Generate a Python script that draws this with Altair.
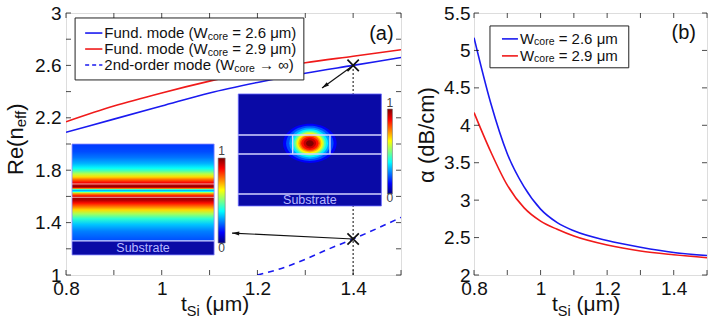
import math
import altair as alt
import pandas as pd

# ---------------- data ----------------
# Panel (a): Re(n_eff) versus silicon thickness t_Si (um)
t_a = [0.80, 0.90, 1.00, 1.10, 1.20, 1.30, 1.40, 1.50]
neff_w26 = [2.09, 2.19, 2.29, 2.39, 2.47, 2.54, 2.60, 2.66]
neff_w29 = [2.17, 2.29, 2.39, 2.48, 2.56, 2.62, 2.67, 2.72]
t_2nd = [1.20, 1.25, 1.30, 1.35, 1.40, 1.45, 1.50]
neff_2nd = [1.00, 1.05, 1.12, 1.20, 1.275, 1.355, 1.44]

# Panel (b): propagation loss alpha (dB/cm)
t_b = [0.80, 0.85, 0.90, 0.95, 1.00, 1.05, 1.10, 1.20, 1.30, 1.40, 1.50]
alpha_w26 = [5.17, 4.30, 3.62, 3.18, 2.88, 2.70, 2.59, 2.46, 2.37, 2.30, 2.26]
alpha_w29 = [4.17, 3.65, 3.20, 2.90, 2.72, 2.61, 2.52, 2.40, 2.32, 2.27, 2.23]

# tick positions and labels
xticks_a = [0.8, 0.9, 1.0, 1.1, 1.2, 1.3, 1.4, 1.5]
xlabels_a = [0.8, 1.0, 1.2, 1.4]
yticks_a = [1.0, 1.2, 1.4, 1.6, 1.8, 2.0, 2.2, 2.4, 2.6, 2.8, 3.0]
ylabels_a = [1.0, 1.4, 1.8, 2.2, 2.6, 3.0]
xticks_b = [0.8, 0.9, 1.0, 1.1, 1.2, 1.3, 1.4, 1.5]
xlabels_b = [0.8, 1.0, 1.2, 1.4]
yticks_b = [2.0, 2.5, 3.0, 3.5, 4.0, 4.5, 5.0, 5.5]
ylabels_b = [2.0, 2.5, 3.0, 3.5, 4.0, 4.5, 5.0, 5.5]

# slab-mode intensity profile (top -> bottom of the field window), normalised 0..1
slab_pos = [0.00, 0.08, 0.14, 0.20, 0.25, 0.28, 0.31, 0.34, 0.37, 0.40, 0.42, 0.44, 0.455,
            0.463, 0.471, 0.48, 0.49, 0.50, 0.515, 0.535, 0.555, 0.58, 0.61, 0.645, 0.68,
            0.72, 0.77, 0.83, 0.90, 1.00]
slab_val = [0.18, 0.20, 0.24, 0.30, 0.38, 0.46, 0.56, 0.66, 0.78, 0.88, 0.93, 0.98, 0.86,
            0.60, 0.38, 0.30, 0.38, 0.55, 0.74, 0.86, 0.96, 0.95, 0.86, 0.76, 0.66,
            0.54, 0.42, 0.32, 0.25, 0.20]

# rib-mode intensity contours: level, half-width (t axis units), half-height (n_eff axis units)
spot_level = [0.12, 0.20, 0.28, 0.36, 0.45, 0.55, 0.63, 0.70, 0.78, 0.86, 0.93, 1.00]
spot_hw = [0.0560, 0.0495, 0.0430, 0.0380, 0.0335, 0.0300, 0.0270, 0.0240, 0.0210, 0.0180, 0.0130, 0.0080]
spot_hh = [0.1500, 0.1340, 0.1200, 0.1080, 0.0960, 0.0870, 0.0780, 0.0690, 0.0610, 0.0510, 0.0390, 0.0240]

# ---------------- styling ----------------
FONT = "Liberation Sans"
WA, HA = 335, 262
WB, HB = 233, 262
BLUE = "#1a1af0"
RED = "#f01a1a"
DARK = "#0a0aa6"
LINE = "#d4d4ff"
LEG, SUB = 15, 10.5
TICKF = 19
TITLEF, TITLESUB = 21, 14.5

sxA = alt.Scale(domain=[0.8, 1.5], nice=False, zero=False)
syA = alt.Scale(domain=[1.0, 3.0], nice=False, zero=False)
sxB = alt.Scale(domain=[0.8, 1.5], nice=False, zero=False)
syB = alt.Scale(domain=[2.0, 5.5], nice=False, zero=False)


def axis(values, pad):
    return alt.Axis(values=values, format="~g", ticks=False, domain=False, grid=False,
                    labelFontSize=TICKF, labelFont=FONT, labelColor="#111", labelPadding=pad,
                    labelFlush=False, labelOverlap=False, labelBound=False, title=None)


AXES = {id(sxA): axis(xlabels_a, 4), id(syA): axis(ylabels_a, 5),
        id(sxB): axis(xlabels_b, 4), id(syB): axis(ylabels_b, 4)}

AW = {' ': 278, '(': 333, ')': 333, '.': 278, '-': 333, '=': 584, '/': 278, 'μ': 576,
      '→': 1000, '∞': 713, 'α': 578, 'F': 611, 'W': 944, 'R': 722, 'S': 667, 'B': 667,
      'f': 278, 'i': 222, 't': 278, 'r': 333, 'c': 500, 'm': 833, 's': 500}


def text_width(s, size):
    return sum(AW.get(ch, 556) for ch in s) * size / 1000.0


def jet(v):
    v = max(0.0, min(1.0, v))
    r = max(0.0, min(1.0, 1.5 - abs(4 * v - 3)))
    g = max(0.0, min(1.0, 1.5 - abs(4 * v - 2)))
    b = max(0.0, min(1.0, 1.5 - abs(4 * v - 1)))
    return "#%02x%02x%02x" % (int(r * 255), int(g * 255), int(b * 255))


def XQ(s, f="x"):
    return alt.X(f + ":Q", scale=s, axis=AXES[id(s)])


def YQ(s, f="y"):
    return alt.Y(f + ":Q", scale=s, axis=AXES[id(s)])


def curve(ts, vs, color, sx, sy, dash=None):
    df = pd.DataFrame({"x": ts, "y": vs})
    kw = dict(color=color, strokeWidth=1.6, interpolate="monotone", clip=True)
    if dash:
        kw["strokeDash"] = dash
    return alt.Chart(df).mark_line(**kw).encode(x=XQ(sx), y=YQ(sy))


def box(x0, x1, y0, y1, sx, sy, **mk):
    df = pd.DataFrame({"x": [x0], "x2": [x1], "y": [y0], "y2": [y1]})
    return alt.Chart(df).mark_rect(**mk).encode(
        x=XQ(sx), x2=alt.X2("x2"), y=YQ(sy), y2=alt.Y2("y2"))


def seg(x0, y0, x1, y1, sx, sy, **mk):
    df = pd.DataFrame({"x": [x0], "x2": [x1], "y": [y0], "y2": [y1]})
    return alt.Chart(df).mark_rule(**mk).encode(
        x=XQ(sx), x2=alt.X2("x2"), y=YQ(sy), y2=alt.Y2("y2"))


def rich(pieces, sx=None, sy=None, xv=None, yv=None, px=None, py=None,
         angle=0, baseline="middle", align="left", color="#111"):
    """Text built from pieces (text, size, baseline shift) laid end to end.
    Leading blanks of a piece become an offset, since SVG drops them."""
    layers = []
    off = 0.0
    for txt, size, shift in pieces:
        lead = len(txt) - len(txt.lstrip(" "))
        off += lead * 278 * size / 1000.0
        body = txt.lstrip(" ")
        if px is None:
            ch = alt.Chart(pd.DataFrame({"x": [xv], "y": [yv]}))
            enc = dict(x=XQ(sx), y=YQ(sy))
        else:
            ch = alt.Chart(alt.Data(values=[{}]))
            enc = dict(x=alt.value(px), y=alt.value(py))
        layers.append(ch.mark_text(text=body, fontSize=size, font=FONT, align=align,
                                   baseline=baseline, dx=off, dy=shift, angle=angle,
                                   color=color).encode(**enc))
        off += text_width(body, size)
    return layers


def frame_ticks(xt, yt, sx, sy, W, H):
    dx = pd.DataFrame({"x": xt})
    dy = pd.DataFrame({"y": yt})
    tk = dict(color="#000", thickness=1, size=5)
    return [
        alt.Chart(dx).mark_tick(orient="vertical", **tk).encode(x=XQ(sx), y=alt.value(H - 2.5)),
        alt.Chart(dx).mark_tick(orient="vertical", **tk).encode(x=XQ(sx), y=alt.value(2.5)),
        alt.Chart(dy).mark_tick(orient="horizontal", **tk).encode(y=YQ(sy), x=alt.value(2.5)),
        alt.Chart(dy).mark_tick(orient="horizontal", **tk).encode(y=YQ(sy), x=alt.value(W - 2.5)),
    ]


def jet_bar(x0, x1, y0, y1, sx, sy):
    stops = [alt.GradientStop(offset=o, color=jet(o)) for o in [0, 0.125, 0.375, 0.625, 0.875, 1]]
    grad = alt.LinearGradient(gradient="linear", stops=stops, x1=0, x2=0, y1=1, y2=0)
    return box(x0, x1, y0, y1, sx, sy, fill=grad, stroke="#777", strokeWidth=0.6)


def arrow(x0, y0, x1, y1, sx, sy, W, H, dom_x, dom_y):
    ppx = W / (dom_x[1] - dom_x[0])
    ppy = H / (dom_y[1] - dom_y[0])
    ddx = (x1 - x0) * ppx
    ddy = -(y1 - y0) * ppy
    ang = math.degrees(math.atan2(ddx, -ddy)) % 360
    head = alt.Chart(pd.DataFrame({"x": [x1], "y": [y1]})).mark_point(
        shape="M0,0L-0.45,1.6L0.45,1.6Z", filled=True, color="#111", size=80,
        angle=ang, opacity=1).encode(x=XQ(sx), y=YQ(sy))
    return [seg(x0, y0, x1, y1, sx, sy, color="#111", strokeWidth=1.2), head]


def cross(x, y, sx, sy):
    return alt.Chart(pd.DataFrame({"x": [x], "y": [y]})).mark_point(
        shape="M-1,-1L1,1M-1,1L1,-1", filled=False, color="#111", size=130,
        strokeWidth=1.7, opacity=1).encode(x=XQ(sx), y=YQ(sy))


# ---------------- panel (a) ----------------
ppxA, ppyA = WA / 0.7, HA / 2.0
A = []
A.append(curve(t_a, neff_w26, BLUE, sxA, syA))
A.append(curve(t_a, neff_w29, RED, sxA, syA))
A.append(curve(t_2nd, neff_2nd, BLUE, sxA, syA, dash=[6, 5]))
A.append(seg(1.4, 1.0, 1.4, 2.6, sxA, syA, color="#333", strokeWidth=1.2, strokeDash=[2, 2]))

# slab-mode inset
slab_stops = [alt.GradientStop(offset=p, color=jet(v)) for p, v in zip(slab_pos, slab_val)]
slab_grad = alt.LinearGradient(gradient="linear", stops=slab_stops, x1=0, x2=0, y1=0, y2=1)
A.append(box(0.8126, 1.1095, 1.26, 2.0, sxA, syA, fill=slab_grad))
A.append(box(0.8126, 1.1095, 1.153, 1.26, sxA, syA, fill=DARK))
A.append(box(0.8126, 1.1095, 1.153, 2.0, sxA, syA, fill=None, stroke="#8a8aff", strokeWidth=0.8))
for yl in [1.695, 1.593]:
    A.append(seg(0.8126, yl, 1.1095, yl, sxA, syA, color="#ffe0e0", strokeWidth=0.9, opacity=0.8))
A.append(seg(0.8126, 1.26, 1.1095, 1.26, sxA, syA, color=LINE, strokeWidth=1.3))
A += rich([("Substrate", 12.5, 0)], sxA, syA, 0.961, 1.205, align="center", color="#b8b8ff")
A.append(jet_bar(1.1179, 1.1326, 1.244, 1.893, sxA, syA))
A += rich([("1", 12, 0)], sxA, syA, 1.1253, 1.945, align="center", color="#444")
A += rich([("0", 12, 0)], sxA, syA, 1.1253, 1.205, align="center", color="#444")

# rib-mode inset: background, intensity contours as nested ellipses, layer outlines
CX, CY = 1.3095, 2.005
A.append(box(1.160, 1.459, 1.527, 2.382, sxA, syA, fill=DARK, stroke="#6a6aff", strokeWidth=0.8))
for lv, hw, hh in zip(spot_level, spot_hw, spot_hh):
    hw_px, hh_px = hw * ppxA, hh * ppyA
    k = hh_px / hw_px
    path = "M-1,0A1,%.3f 0 1,0 1,0A1,%.3f 0 1,0 -1,0Z" % (k, k)
    A.append(alt.Chart(pd.DataFrame({"x": [CX], "y": [CY]})).mark_point(
        shape=path, filled=True, fill=jet(lv), strokeWidth=0, opacity=1,
        size=4 * hw_px * hw_px).encode(x=XQ(sxA), y=YQ(syA)))
for yl in [2.069, 1.924, 1.618]:
    A.append(seg(1.160, yl, 1.459, yl, sxA, syA, color=LINE, strokeWidth=1.4))
for xl in [1.2737, 1.3516]:
    A.append(seg(xl, 1.924, xl, 2.069, sxA, syA, color=LINE, strokeWidth=1.4))
A += rich([("Substrate", 12.5, 0)], sxA, syA, 1.3095, 1.572, align="center", color="#b8b8ff")
A.append(jet_bar(1.4716, 1.4821, 1.618, 2.267, sxA, syA))
A += rich([("1", 12, 0)], sxA, syA, 1.4768, 2.315, align="center", color="#444")
A += rich([("0", 12, 0)], sxA, syA, 1.4768, 1.585, align="center", color="#444")

# arrows and markers
A += arrow(1.4, 2.6, 1.335, 2.427, sxA, syA, WA, HA, [0.8, 1.5], [1.0, 3.0])
A += arrow(1.4, 1.275, 1.147, 1.32, sxA, syA, WA, HA, [0.8, 1.5], [1.0, 3.0])
A.append(cross(1.4, 2.6, sxA, syA))
A.append(cross(1.4, 1.275, sxA, syA))

# legend (a)
A.append(box(0.819, 1.297, 2.489, 2.962, sxA, syA, fill="white", stroke="#222", strokeWidth=1))
for yy, col, dash in [(2.847, BLUE, None), (2.725, RED, None), (2.603, BLUE, [4, 3])]:
    kw = dict(color=col, strokeWidth=1.6)
    if dash:
        kw["strokeDash"] = dash
    A.append(seg(0.840, yy, 0.876, yy, sxA, syA, **kw))
A += rich([("Fund. mode (W", LEG, 0), ("core", SUB, 3.5), (" = 2.6 μm)", LEG, 0)], sxA, syA, 0.880, 2.847)
A += rich([("Fund. mode (W", LEG, 0), ("core", SUB, 3.5), (" = 2.9 μm)", LEG, 0)], sxA, syA, 0.880, 2.725)
A += rich([("2nd-order mode (W", LEG, 0), ("core", SUB, 3.5), (" → ∞)", LEG, 0)], sxA, syA, 0.880, 2.603)
A += rich([("(a)", 20, 0)], sxA, syA, 1.459, 2.84, align="center")

A += frame_ticks(xticks_a, yticks_a, sxA, syA, WA, HA)
A += rich([("t", TITLEF, 0), ("Si", TITLESUB, 4.5), (" (μm)", TITLEF, 0)],
          px=115, py=HA + 36, baseline="alphabetic")
A += rich([("Re(n", 22, 0), ("eff", 15, 5), (")", 22, 0)], px=-50, py=162, angle=270)

panelA = alt.layer(*A).properties(width=WA, height=HA)

# ---------------- panel (b) ----------------
B = []
B.append(curve(t_b, alpha_w26, BLUE, sxB, syB))
B.append(curve(t_b, alpha_w29, RED, sxB, syB))
B.append(box(0.848, 1.265, 4.768, 5.327, sxB, syB, fill="white", stroke="#222", strokeWidth=1))
for yy, col in [(5.154, BLUE), (4.927, RED)]:
    B.append(seg(0.884, yy, 0.932, yy, sxB, syB, color=col, strokeWidth=1.6))
B += rich([("W", LEG, 0), ("core", SUB, 3.5), (" = 2.6 μm", LEG, 0)], sxB, syB, 0.938, 5.154)
B += rich([("W", LEG, 0), ("core", SUB, 3.5), (" = 2.9 μm", LEG, 0)], sxB, syB, 0.938, 4.927)
B += rich([("(b)", 20, 0)], sxB, syB, 1.43, 5.234, align="center")
B += frame_ticks(xticks_b, yticks_b, sxB, syB, WB, HB)
B += rich([("t", TITLEF, 0), ("Si", TITLESUB, 4.5), (" (μm)", TITLEF, 0)],
          px=78, py=HB + 36, baseline="alphabetic")
B += rich([("α (dB/cm)", 22, 0)], px=-47, py=122, angle=270, align="center")

panelB = alt.layer(*B).properties(width=WB, height=HB)

chart = alt.hconcat(panelA, panelB, spacing=73, bounds="flush").properties(
    padding={"left": 4, "top": 3, "right": 0, "bottom": 0}
).configure_view(stroke="#000", strokeWidth=1).configure(background="white")

chart.save("out.html", embed_options={"renderer": "svg", "actions": False})
